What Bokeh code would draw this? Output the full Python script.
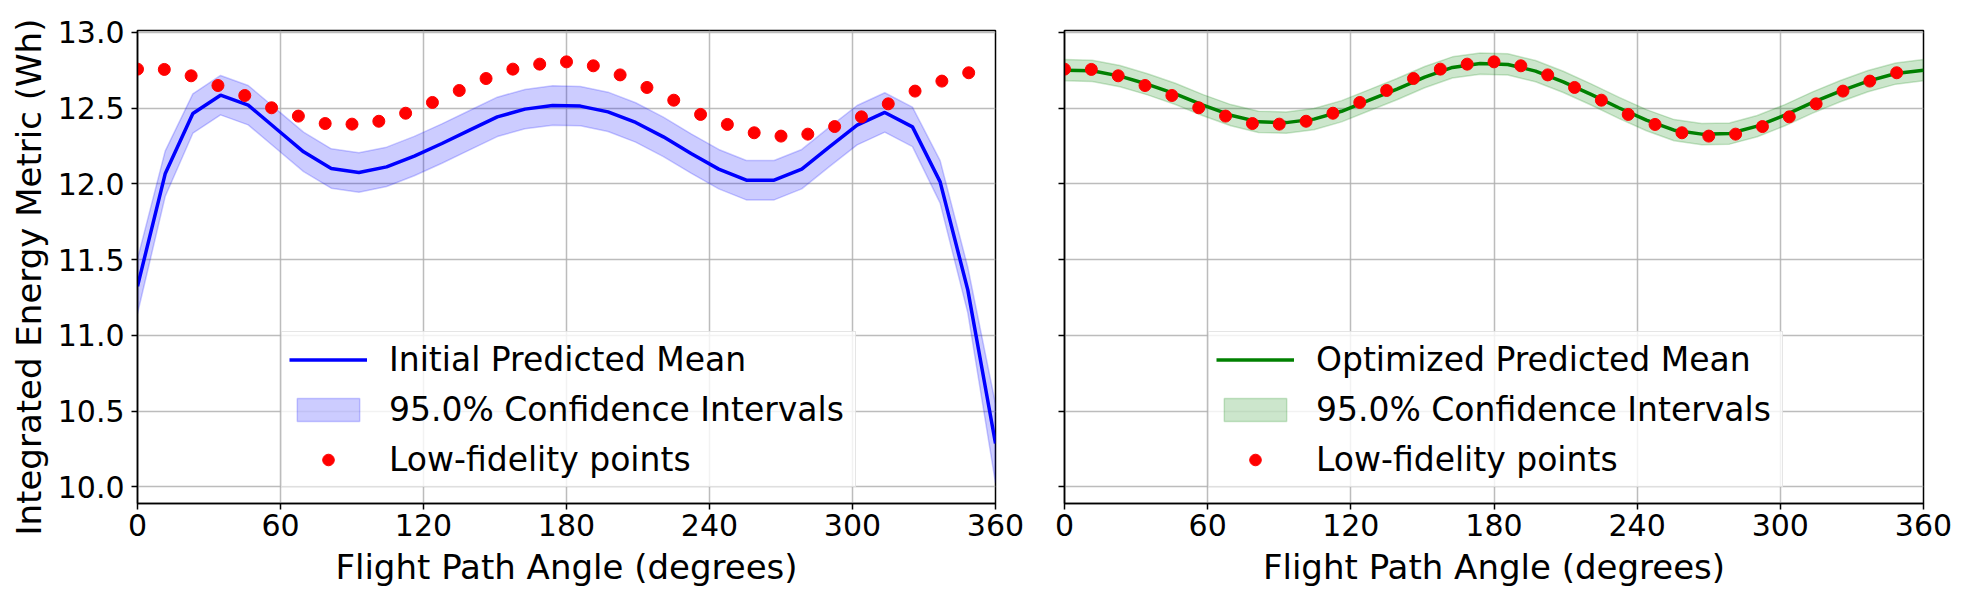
from bokeh.plotting import figure
from bokeh.layouts import row
from bokeh.models import Range1d, FixedTicker, PrintfTickFormatter, Legend, LegendItem, Title
from bokeh.embed import file_html
from bokeh.resources import INLINE

# ---------------- data ----------------
lf_angles = [0.0, 11.25, 22.5, 33.75, 45.0, 56.25, 67.5, 78.75, 90.0, 101.25, 112.5, 123.75,
             135.0, 146.25, 157.5, 168.75, 180.0, 191.25, 202.5, 213.75, 225.0, 236.25, 247.5,
             258.75, 270.0, 281.25, 292.5, 303.75, 315.0, 326.25, 337.5, 348.75]
lf_energy = [12.758, 12.756, 12.714, 12.650, 12.584, 12.503, 12.448, 12.399, 12.395, 12.414,
             12.467, 12.538, 12.617, 12.696, 12.758, 12.791, 12.806, 12.780, 12.720, 12.637,
             12.553, 12.459, 12.393, 12.338, 12.316, 12.329, 12.379, 12.443, 12.529, 12.613,
             12.679, 12.734]

pred_angles = [0.0, 11.61, 23.23, 34.84, 46.45, 58.06, 69.68, 81.29, 92.90, 104.52, 116.13,
               127.74, 139.35, 150.97, 162.58, 174.19, 185.81, 197.42, 209.03, 220.65, 232.26,
               243.87, 255.48, 267.10, 278.71, 290.32, 301.94, 313.55, 325.16, 336.77, 348.39,
               360.0]
initial_mean = [11.325, 12.067, 12.465, 12.586, 12.520, 12.366, 12.212, 12.102, 12.076, 12.113,
                12.184, 12.267, 12.355, 12.443, 12.494, 12.518, 12.514, 12.476, 12.406, 12.311,
                12.201, 12.098, 12.025, 12.025, 12.098, 12.245, 12.388, 12.472, 12.377, 12.014,
                11.299, 10.287]
initial_ci = [0.18, 0.15, 0.13, 0.13, 0.13, 0.13, 0.13, 0.13, 0.13, 0.13, 0.13, 0.13, 0.13,
              0.13, 0.13, 0.13, 0.13, 0.13, 0.13, 0.13, 0.13, 0.13, 0.13, 0.13, 0.13, 0.13,
              0.13, 0.13, 0.13, 0.14, 0.15, 0.26]
optimized_mean = [12.751, 12.747, 12.712, 12.658, 12.595, 12.520, 12.454, 12.410, 12.405, 12.428,
                  12.480, 12.553, 12.626, 12.705, 12.769, 12.795, 12.789, 12.745, 12.674, 12.591,
                  12.503, 12.421, 12.355, 12.329, 12.333, 12.382, 12.454, 12.538, 12.613, 12.679,
                  12.729, 12.751]
optimized_ci = [0.07] * 32

x_ticks = [0, 60, 120, 180, 240, 300, 360]
y_ticks = [10.0, 10.5, 11.0, 11.5, 12.0, 12.5, 13.0]
x_limits = (0, 360)
y_limits = (9.891, 13.013)

FONT = "DejaVu Sans"
HEIGHT = 597
TOP = 30
BOTTOM = 94


def make_fig(width, left, right, show_ylabels):
    p = figure(width=width, height=HEIGHT, output_backend="svg", toolbar_location=None,
               x_range=Range1d(*x_limits), y_range=Range1d(*y_limits),
               min_border_left=left, min_border_right=right,
               min_border_top=TOP, min_border_bottom=BOTTOM)
    p.background_fill_color = "white"
    p.border_fill_color = "white"
    p.outline_line_color = "black"
    p.outline_line_width = 1.5
    p.grid.grid_line_color = "#b0b0b0"
    p.grid.grid_line_width = 1.5
    p.grid.grid_line_alpha = 0.85
    p.xaxis.ticker = FixedTicker(ticks=x_ticks)
    p.yaxis.ticker = FixedTicker(ticks=y_ticks)
    p.yaxis.formatter = PrintfTickFormatter(format="%.1f")
    for ax in (p.xaxis, p.yaxis):
        ax.major_tick_out = 6
        ax.major_tick_in = 0
        ax.minor_tick_line_color = None
        ax.major_tick_line_width = 1.5
        ax.axis_line_width = 1.5
        ax.major_label_text_font = FONT
        ax.major_label_text_font_size = "30px"
        ax.major_label_text_color = "black"
        ax.axis_label_text_font = FONT
        ax.axis_label_text_font_size = "34px"
        ax.axis_label_text_font_style = "normal"
        ax.axis_label_text_color = "black"
    p.xaxis.major_label_standoff = 4
    p.xaxis.axis_label_standoff = 8
    p.yaxis.major_label_standoff = 7
    p.xaxis.axis_label = "Flight Path Angle (degrees)"
    if show_ylabels:
        ylab = Title(text="Integrated Energy Metric (Wh)", align="left", offset=-32,
                     vertical_align="bottom", standoff=12, text_font=FONT,
                     text_font_size="34px", text_font_style="normal", text_color="black")
        p.add_layout(ylab, "left")
    else:
        p.yaxis.major_label_overrides = {t: "" for t in y_ticks}
    return p


def add_series(p, mean, ci, color, mean_label):
    upper = [m + c for m, c in zip(mean, ci)]
    lower = [m - c for m, c in zip(mean, ci)]
    band = p.patch(pred_angles + pred_angles[::-1], upper + lower[::-1],
                   fill_color=color, fill_alpha=0.2, line_color=color, line_alpha=0.2,
                   line_width=1.5)
    ln = p.line(pred_angles, mean, line_color=color, line_width=3.5)
    pts = p.scatter(lf_angles, lf_energy, size=12, fill_color="red", line_color="red")
    legend = Legend(items=[LegendItem(label=mean_label, renderers=[ln]),
                           LegendItem(label="95.0% Confidence Intervals", renderers=[band]),
                           LegendItem(label="Low-fidelity points", renderers=[pts])],
                    location=(144, 16))
    legend.label_text_font = FONT
    legend.label_text_font_size = "33px"
    legend.label_text_color = "black"
    legend.label_standoff = 22
    legend.label_width = 459
    legend.label_height = 40
    legend.glyph_width = 78
    legend.glyph_height = 29
    legend.spacing = 10
    legend.padding = 7
    legend.margin = 0
    legend.border_line_color = "#cccccc"
    legend.border_line_width = 1.5
    legend.background_fill_color = "white"
    legend.background_fill_alpha = 0.8
    p.add_layout(legend, "center")


# left panel frame: x 134..995, right panel frame: x 1064..1923
p1 = make_fig(1025, 134, 30, True)
add_series(p1, initial_mean, initial_ci, "blue", "Initial Predicted Mean")

p2 = make_fig(936, 39, 38, False)
add_series(p2, optimized_mean, optimized_ci, "green", "Optimized Predicted Mean")

layout = row(p1, p2)
open("out.html", "w").write(file_html(layout, INLINE))
